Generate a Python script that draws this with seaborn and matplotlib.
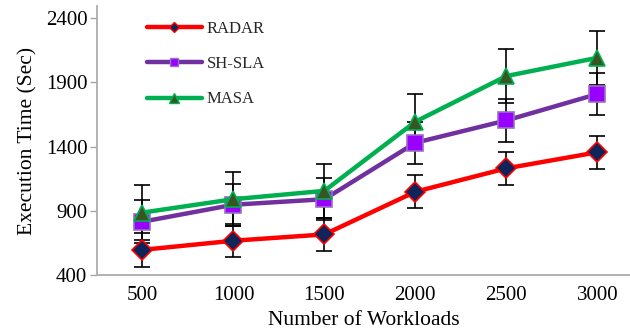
import matplotlib
matplotlib.use("Agg")
import matplotlib.pyplot as plt
import seaborn as sns
import pandas as pd
from matplotlib.lines import Line2D

# Workload sizes on the x axis
workloads = ["500", "1000", "1500", "2000", "2500", "3000"]

# Mean execution time (seconds) per approach
radar = [596, 667, 716, 1048, 1230, 1355]
sh_sla = [815, 947, 990, 1429, 1603, 1808]
masa = [886, 990, 1055, 1593, 1948, 2090]

# Error-bar half widths (standard error) per approach
radar_err = [130, 130, 130, 130, 130, 130]
sh_sla_err = [165, 165, 165, 165, 165, 165]
masa_err = [212, 212, 212, 212, 212, 212]

series_names = ["RADAR", "SH-SLA", "MASA"]
series_vals = [radar, sh_sla, masa]
series_errs = [radar_err, sh_sla_err, masa_err]

styles = {
    "RADAR": dict(color="#FF0000", marker="D", mfc="#0F2458", mec="#FF0000", ms=10, mew=1.2),
    "SH-SLA": dict(color="#7030A0", marker="s", mfc="#9900FF", mec="#9B6FC4", ms=11.5, mew=1.2),
    "MASA": dict(color="#00B050", marker="^", mfc="#375623", mec="#00B050", ms=12, mew=1.2),
}

sns.set_theme(style="white")
plt.rcParams["font.family"] = ["Liberation Serif", "DejaVu Serif"]

fig = plt.figure(figsize=(6.3, 3.35), dpi=100)
ax = fig.add_axes([0.154, 0.179, 0.846, 0.803])

for name, vals, errs in zip(series_names, series_vals, series_errs):
    st = styles[name]
    df = pd.DataFrame({"Workloads": workloads, "Time": vals})
    ax.errorbar(range(len(workloads)), vals, yerr=errs, fmt="none",
                ecolor="black", elinewidth=1.2, capsize=5.5, capthick=1.2, zorder=2)
    sns.lineplot(data=df, x="Workloads", y="Time", ax=ax, color=st["color"],
                 linewidth=3.2, marker=st["marker"], markersize=st["ms"],
                 markerfacecolor=st["mfc"], markeredgecolor=st["mec"],
                 markeredgewidth=st["mew"], sort=False, zorder=3)

ax.set_xlim(-0.5, 5.36)
ax.set_ylim(400, 2493)
ax.set_yticks([400, 900, 1400, 1900, 2400])
ax.set_xlabel("Number of Workloads", fontsize=15.5, color="black", labelpad=4)
ax.set_ylabel("Execution Time (Sec)", fontsize=15.5, color="black", labelpad=6)
ax.tick_params(axis="y", labelsize=15, length=5, width=1, color="#A6A6A6",
               direction="out", left=True, pad=2, labelcolor="black")
ax.tick_params(axis="x", labelsize=15, length=0, pad=8, labelcolor="black")

for side in ["top", "right"]:
    ax.spines[side].set_visible(False)
for side in ["left", "bottom"]:
    ax.spines[side].set_color("#ADADAD")
    ax.spines[side].set_linewidth(1.3)

handles = [
    Line2D([0], [0], color=styles[n]["color"], lw=3.2, marker=styles[n]["marker"],
           markersize=styles[n]["ms"] * 0.55, markerfacecolor=styles[n]["mfc"],
           markeredgecolor=styles[n]["mec"], markeredgewidth=1)
    for n in series_names
]
ax.legend(handles, series_names, loc="upper left", bbox_to_anchor=(0.065, 1.0),
          frameon=False, fontsize=12, handlelength=3.3, handletextpad=0.3,
          labelspacing=1.15)

fig.savefig("out.png", dpi=100)
